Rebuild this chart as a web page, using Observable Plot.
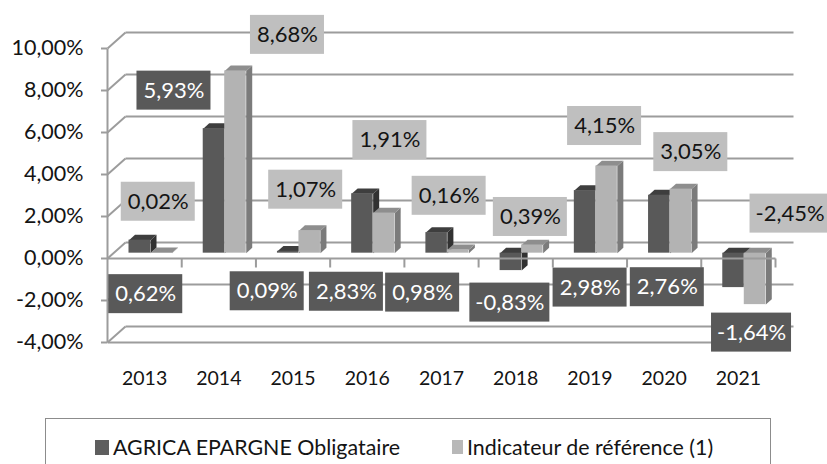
<!DOCTYPE html>
<html>
<head>
<meta charset="utf-8">
<script src="https://cdn.jsdelivr.net/npm/d3@7"></script>
<script src="https://cdn.jsdelivr.net/npm/@observablehq/plot@0.6"></script>
<style>
  html, body { margin: 0; padding: 0; background: #fff; }
  body { width: 827px; height: 464px; overflow: hidden; font-family: Lato, "Open Sans", sans-serif; }
  #legend {
    position: absolute; left: 45px; top: 418px; width: 726px; height: 60px;
    border: 1.5px solid #8c8c8c; box-sizing: border-box;
    font-size: 21.4px; color: #141414;
  }
  #legend .item { position: absolute; top: 15px; display: flex; align-items: center; white-space: nowrap; }
  #legend .sw { width: 14px; height: 15px; margin-right: 4px; }
</style>
</head>
<body>
<div id="chart"></div>
<div id="legend"></div>
<script>
// ---- data ----
const years = ["2013", "2014", "2015", "2016", "2017", "2018", "2019", "2020", "2021"];
const fund = [0.62, 5.93, 0.09, 2.83, 0.98, -0.83, 2.98, 2.76, -1.64];   // AGRICA EPARGNE Obligataire
const bench = [0.02, 8.68, 1.07, 1.91, 0.16, 0.39, 4.15, 3.05, -2.45];   // Indicateur de référence (1)
const yTicks = [-4, -2, 0, 2, 4, 6, 8, 10];
const seriesNames = ["AGRICA EPARGNE Obligataire", "Indicateur de référence (1)"];

// ---- layout (pixels) ----
const W = 827, H = 408;
const mL = 107, mR = 52, mT = 48, mB = 66;
const PX = (W - mL - mR) / years.length;       // px per category
const PY = (H - mT - mB) / (10 - (-4));          // px per percent
const DX = 18 / PX, DY = 16 / PY;                // wall depth in data units
const barOff = 15.5, barW = 21.5;                // px within a category
// label offsets (px) relative to the end of each bar, as placed in the source chart
const labelOff = [
  [[6, 54], [-40, -38], [-21, 40], [-16, 98], [-14, 60], [-1, 32], [5, 97], [8, 92], [18, 45]],
  [[-3, -51], [52, -36], [-4, -41], [6, -73], [-9, -54], [-2, -28], [-2, -40], [10, -37], [35, -91]]
];
const colors = [
  {front: "#595959", top: "#3e3e3e", side: "#323232", box: "#595959", text: "#ffffff"},
  {front: "#b3b3b3", top: "#8e8e8e", side: "#7b7b7b", box: "#bfbfbf", text: "#141414"}
];
const fmt = v => v.toFixed(2).replace(".", ",") + "%";

// ---- derived geometry ----
const d = DX / 3, e = DY / 3;
const bars = [];
years.forEach((yr, i) => {
  [fund[i], bench[i]].forEach((v, s) => {
    const x1 = i + (barOff + barW * s) / PX + d;
    const x2 = x1 + barW / PX;
    bars.push({i, s, v, x1, x2, lo: Math.min(0, v) + e, hi: Math.max(0, v) + e});
  });
});
const tops = [], sides = [];
bars.forEach((b, k) => {
  const c = colors[b.s];
  [[b.x1, b.hi], [b.x2, b.hi], [b.x2 + d, b.hi + e], [b.x1 + d, b.hi + e]]
    .forEach(([x, y]) => tops.push({id: k, x, y, c: c.top}));
  [[b.x2, b.lo], [b.x2, b.hi], [b.x2 + d, b.hi + e], [b.x2 + d, b.lo + e]]
    .forEach(([x, y]) => sides.push({id: k, x, y, c: c.side}));
});
const labels = bars.map(b => {
  const [ox, oy] = labelOff[b.s][b.i];
  const cx = (b.x1 + b.x2) / 2 + ox / PX;
  const cy = b.v + e - oy / PY;
  const w = (b.v < 0 ? 80 : 74) / PX, h = 39 / PY;
  return {cx, cy, x1: cx - w / 2, x2: cx + w / 2, y1: cy - h / 2, y2: cy + h / 2,
          text: fmt(b.v), box: colors[b.s].box, tc: colors[b.s].text};
});

const grid = "#9c9c9c";
const n = years.length;
const chart = Plot.plot({
  width: W, height: H,
  marginLeft: mL, marginRight: mR, marginTop: mT, marginBottom: mB,
  style: {fontFamily: "Lato, 'Open Sans', sans-serif", color: "#141414", background: "#fff"},
  x: {type: "linear", domain: [0, n]},
  y: {type: "linear", domain: [-4, 10]},
  color: {type: "identity"},
  marks: [
    // back wall gridlines
    Plot.link(yTicks, {x1: DX, x2: n + DX, y1: t => t + DY, y2: t => t + DY, stroke: grid, strokeWidth: 2}),
    // left wall diagonals
    Plot.link(yTicks, {x1: 0, x2: DX, y1: t => t, y2: t => t + DY, stroke: grid, strokeWidth: 2}),
    // front floor edge and vertical axis
    Plot.link([-4], {x1: 0, x2: n, y1: t => t, y2: t => t, stroke: grid, strokeWidth: 2}),
    Plot.link([0], {x1: 0, x2: 0, y1: -4, y2: 10, stroke: grid, strokeWidth: 2}),
    // bars: side faces, top faces, front faces
    Plot.line(sides, {x: "x", y: "y", z: "id", fill: "c", stroke: "none", curve: "linear-closed"}),
    Plot.line(tops, {x: "x", y: "y", z: "id", fill: "c", stroke: "none", curve: "linear-closed"}),
    Plot.rect(bars, {x1: "x1", x2: "x2", y1: "lo", y2: "hi", fill: b => colors[b.s].front}),
    // front horizontal axis at 0 with category ticks
    Plot.link([0], {x1: 0, x2: n, y1: 0, y2: 0, stroke: grid, strokeWidth: 2}),
    Plot.link(d3.range(1, n + 1), {x1: i => i, x2: i => i, y1: 0, y2: -9 / PY, stroke: grid, strokeWidth: 2}),
    // axes
    Plot.axisY({ticks: yTicks, tickFormat: fmt, tickSize: 6, tickPadding: 18, fontSize: 21.5, stroke: grid, strokeWidth: 2, label: null}),
    Plot.axisX({ticks: d3.range(n).map(i => i + 0.5), tickFormat: t => years[Math.floor(t)], tickSize: 0, tickPadding: 29, fontSize: 19.5, label: null}),
    // data labels
    Plot.rect(labels, {x1: "x1", x2: "x2", y1: "y1", y2: "y2", fill: "box"}),
    Plot.text(labels, {x: "cx", y: "cy", text: "text", fill: "tc", fontSize: 22})
  ]
});
document.getElementById("chart").appendChild(chart);

// legend
const legend = document.getElementById("legend");
const legendX = [49, 406];
seriesNames.forEach((name, s) => {
  const it = document.createElement("div");
  it.className = "item";
  it.style.left = legendX[s] + "px";
  const sw = document.createElement("span");
  sw.className = "sw";
  sw.style.background = s === 0 ? "#5e5e5e" : "#b8b8b8";
  if (s === 1) { sw.style.width = "11px"; sw.style.height = "14px"; }
  const tx = document.createElement("span");
  tx.textContent = name;
  it.appendChild(sw); it.appendChild(tx);
  legend.appendChild(it);
});
</script>
</body>
</html>
